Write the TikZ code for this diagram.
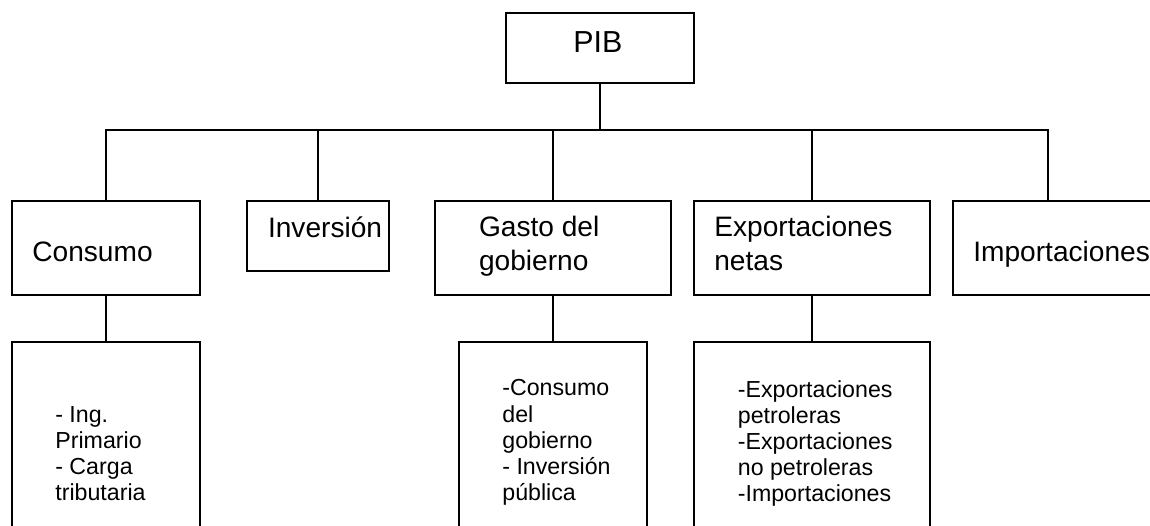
\documentclass[tikz,border=0pt]{standalone}
\usepackage{fontspec}
\setmainfont{Liberation Sans}

\begin{document}
\begin{tikzpicture}[
    x=0.02cm, y=-0.02cm,
    box/.style={rectangle, draw, line width=0.75pt, inner sep=0pt},
    link/.style={line width=0.6pt},
    title/.style={font=\fontsize{17.3pt}{20pt}\selectfont, inner sep=0pt, anchor=base west},
    head/.style={font=\fontsize{16pt}{18.8pt}\selectfont, align=left, inner sep=0pt, anchor=base west},
    item/.style={font=\fontsize{13.2pt}{14.8pt}\selectfont, align=left, inner sep=0pt, anchor=base west}
]

\useasboundingbox (0,0) rectangle (1150,525);
\clip (0,0) rectangle (1150,525);

% ============ PIB (TOP) ============
\node[box, minimum width=3.76cm, minimum height=1.4cm] (pib) at (600,48) {};
\node[title] (pibtxt) at (573,52) {PIB};
\coordinate (bus) at (600,130);

% ============ COMPONENTES ============
\node[box, minimum width=3.76cm, minimum height=1.88cm] (cons) at (106,248) {};
\node[box, minimum width=2.84cm, minimum height=1.4cm] (inv) at (318,236) {};
\node[box, minimum width=4.72cm, minimum height=1.88cm] (gasto) at (553,248) {};
\node[box, minimum width=4.72cm, minimum height=1.88cm] (expo) at (812,248) {};
\node[box, minimum width=4.64cm, minimum height=1.88cm] (impo) at (1069,248) {};
\coordinate (impotop) at (1048,201);

% Texts (base = last line)
\node[head] (constxt) at (32,261) {Consumo};
\node[head] (invtxt) at (267.7,237) {Inversión};
\node[head] (gastotxt) at (478.7,270) {Gasto del\\gobierno};
\node[head] (expotxt) at (714,270) {Exportaciones\\netas};
\node[head] (impotxt) at (973,261) {Importaciones};

% ============ DETALLE ============
\node[box, minimum width=3.76cm, minimum height=4.06cm] (consd) at (106,443.5) {};
\node[box, minimum width=3.76cm, minimum height=4.06cm] (gastod) at (553,443.5) {};
\node[box, minimum width=4.72cm, minimum height=4.06cm] (expod) at (812,443.5) {};

\node[item] (consdtxt) at (55,500) {- Ing.\\Primario\\- Carga\\tributaria};
\node[item] (gastodtxt) at (502,500) {-Consumo\\del\\gobierno\\- Inversión\\pública};
\node[item] (expodtxt) at (737.5,501.5) {-Exportaciones\\petroleras\\-Exportaciones\\no petroleras\\-Importaciones};

% Connectors
\draw[link] (pib.south) -- (bus);
\draw[link] (bus) -| (cons.north);
\draw[link] (bus) -| (inv.north);
\draw[link] (bus) -| (gasto.north);
\draw[link] (bus) -| (expo.north);
\draw[link] (bus) -| (impotop);
\draw[link] (cons.south) -- (consd.north);
\draw[link] (gasto.south) -- (gastod.north);
\draw[link] (expo.south) -- (expod.north);

\end{tikzpicture}
\end{document}
